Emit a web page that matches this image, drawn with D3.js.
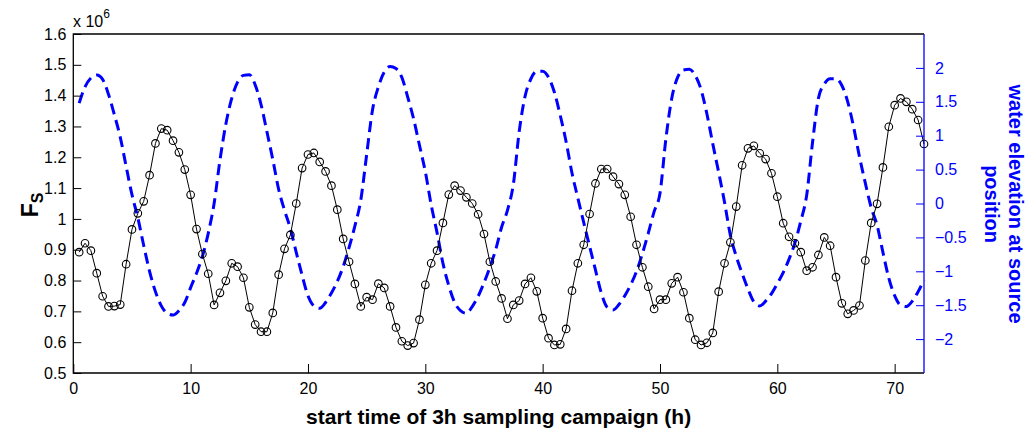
<!DOCTYPE html>
<html>
<head>
<meta charset="utf-8">
<script src="https://cdn.jsdelivr.net/npm/d3@7"></script>
<style>
  body { margin: 0; background: #fff; }
  svg { display: block; font-family: Arial, "Liberation Sans", sans-serif; }
</style>
</head>
<body>
<svg id="chart" width="1029" height="431"></svg>
<script>
// sampling start times, every half hour from 0.5 h to 72.5 h
const hours = d3.range(1, 146).map(i => i * 0.5);

// F_S (x 10^6), black line with circles
const fs = [
  0.892, 0.921, 0.897, 0.824, 0.749, 0.716, 0.717, 0.722, 0.853, 0.966,
  1.018, 1.057, 1.142, 1.245, 1.293, 1.288, 1.254, 1.216, 1.160, 1.078,
  0.967, 0.886, 0.822, 0.721, 0.760, 0.799, 0.856, 0.845, 0.809, 0.713,
  0.657, 0.634, 0.634, 0.695, 0.819, 0.903, 0.948, 1.050, 1.165, 1.209,
  1.214, 1.185, 1.154, 1.108, 1.030, 0.935, 0.861, 0.789, 0.716, 0.746,
  0.738, 0.790, 0.776, 0.716, 0.648, 0.603, 0.589, 0.597, 0.673, 0.786,
  0.856, 0.897, 0.987, 1.079, 1.108, 1.092, 1.070, 1.050, 1.015, 0.951,
  0.861, 0.797, 0.742, 0.676, 0.721, 0.735, 0.789, 0.809, 0.765, 0.678,
  0.613, 0.591, 0.593, 0.643, 0.767, 0.856, 0.916, 1.016, 1.115, 1.162,
  1.162, 1.137, 1.113, 1.078, 1.007, 0.916, 0.843, 0.780, 0.708, 0.738,
  0.738, 0.791, 0.811, 0.762, 0.678, 0.608, 0.591, 0.598, 0.630, 0.764,
  0.856, 0.924, 1.040, 1.174, 1.229, 1.237, 1.213, 1.194, 1.148, 1.072,
  0.986, 0.942, 0.921, 0.892, 0.832, 0.843, 0.883, 0.940, 0.913, 0.811,
  0.726, 0.692, 0.703, 0.719, 0.865, 0.987, 1.049, 1.167, 1.299, 1.369,
  1.391, 1.380, 1.356, 1.321, 1.243
];

// water elevation at source position, blue dashed
const elevation = [
  1.48, 1.72, 1.85, 1.895, 1.83, 1.61, 1.31, 0.98, 0.55, 0.13,
  -0.21, -0.62, -1.00, -1.30, -1.51, -1.62, -1.645, -1.58, -1.46, -1.24,
  -1.03, -0.78, -0.44, 0.00, 0.64, 1.17, 1.55, 1.79, 1.89, 1.90,
  1.75, 1.46, 1.06, 0.65, 0.21, -0.10, -0.37, -0.72, -1.06, -1.36,
  -1.51, -1.545, -1.46, -1.32, -1.15, -0.93, -0.65, -0.33, 0.05, 0.72,
  1.38, 1.72, 1.94, 2.02, 1.99, 1.86, 1.57, 1.25, 0.86, 0.47,
  -0.02, -0.43, -0.88, -1.21, -1.46, -1.58, -1.62, -1.52, -1.37, -1.17,
  -0.94, -0.68, -0.35, -0.10, 0.28, 1.06, 1.58, 1.84, 1.95, 1.95,
  1.86, 1.64, 1.30, 0.91, 0.45, 0.08, -0.28, -0.63, -0.98, -1.32,
  -1.53, -1.57, -1.49, -1.36, -1.20, -1.00, -0.74, -0.44, -0.12, 0.15,
  0.95, 1.55, 1.86, 1.97, 1.98, 1.89, 1.68, 1.32, 0.88, 0.46,
  0.02, -0.47, -0.78, -1.03, -1.26, -1.45, -1.51, -1.44, -1.33, -1.18,
  -1.02, -0.82, -0.58, -0.26, 0.12, 0.90, 1.55, 1.76, 1.84, 1.84,
  1.74, 1.50, 1.13, 0.69, 0.30, -0.06, -0.32, -0.72, -1.10, -1.36,
  -1.50, -1.52, -1.44, -1.30, -1.13
];

const xTicks = [0, 10, 20, 30, 40, 50, 60, 70];
const leftTicks = [0.5, 0.6, 0.7, 0.8, 0.9, 1, 1.1, 1.2, 1.3, 1.4, 1.5, 1.6];
const leftTickLabels = ["0.5", "0.6", "0.7", "0.8", "0.9", "1", "1.1", "1.2", "1.3", "1.4", "1.5", "1.6"];
const rightTicks = [-2, -1.5, -1, -0.5, 0, 0.5, 1, 1.5, 2];
const rightTickLabels = ["\u22122", "\u22121.5", "\u22121", "\u22120.5", "0", "0.5", "1", "1.5", "2"];

const plotL = 73.3, plotR = 924, plotT = 34, plotB = 373;
const blue = "#0000ff";

const svg = d3.select("#chart");

const x = d3.scaleLinear().domain([0, 72.5]).range([plotL, plotR]);
const yL = d3.scaleLinear().domain([0.5, 1.6]).range([plotB, plotT]);
const yR = d3.scaleLinear().domain([-2.5, 2.5]).range([plotB, plotT]);

const fsData = hours.map((t, i) => ({ t, v: fs[i] }));
const wlData = hours.map((t, i) => ({ t, v: elevation[i] }));

// blue dashed tide curve
svg.append("path")
  .datum(wlData)
  .attr("fill", "none")
  .attr("stroke", blue)
  .attr("stroke-width", 3)
  .attr("stroke-dasharray", "11,6")
  .attr("d", d3.line().x(d => x(d.t)).y(d => yR(d.v)).curve(d3.curveMonotoneX));

// black line + circles
svg.append("path")
  .datum(fsData)
  .attr("fill", "none")
  .attr("stroke", "#000")
  .attr("stroke-width", 1)
  .attr("d", d3.line().x(d => x(d.t)).y(d => yL(d.v)));

svg.append("g")
  .selectAll("circle")
  .data(fsData)
  .join("circle")
  .attr("cx", d => x(d.t))
  .attr("cy", d => yL(d.v))
  .attr("r", 3.8)
  .attr("fill", "none")
  .attr("stroke", "#000")
  .attr("stroke-width", 1.1);

// axes
function styleAxis(g, color) {
  g.select(".domain").remove();
  g.selectAll(".tick line").attr("stroke", color).attr("stroke-width", 1);
  g.selectAll(".tick text").attr("fill", color).style("font-size", "16px");
}

svg.append("g")
  .attr("transform", `translate(0,${plotB})`)
  .call(d3.axisBottom(x).tickValues(xTicks).tickSize(-9).tickPadding(10))
  .call(g => styleAxis(g, "#000"));

svg.append("g")
  .attr("transform", `translate(${plotL},0)`)
  .call(d3.axisLeft(yL).tickValues(leftTicks).tickFormat((d, i) => leftTickLabels[i]).tickSize(-8).tickPadding(7))
  .call(g => styleAxis(g, "#000"));

svg.append("g")
  .attr("transform", `translate(${plotR},0)`)
  .call(d3.axisRight(yR).tickValues(rightTicks).tickFormat((d, i) => rightTickLabels[i]).tickSize(-8).tickPadding(11))
  .call(g => styleAxis(g, blue));

// frame: left, top, bottom black; right blue
svg.append("path")
  .attr("d", `M${plotR},${plotT}H${plotL}V${plotB}H${plotR}`)
  .attr("fill", "none").attr("stroke", "#000").attr("stroke-width", 1.3);
svg.append("line")
  .attr("x1", plotR).attr("x2", plotR).attr("y1", plotT).attr("y2", plotB)
  .attr("stroke", blue).attr("stroke-width", 1.3);

// exponent label
const ex = svg.append("text").attr("x", 73).attr("y", 27).style("font-size", "16px").attr("fill", "#000");
ex.append("tspan").text("x 10");
ex.append("tspan").attr("dy", -9).style("font-size", "12px").text("6");

// axis titles
svg.append("text")
  .attr("x", (plotL + plotR) / 2).attr("y", 424)
  .attr("text-anchor", "middle")
  .style("font-size", "21px").style("font-weight", "bold")
  .text("start time of 3h sampling campaign (h)");

const fl = svg.append("text")
  .attr("transform", "translate(38,205) rotate(-90)")
  .attr("text-anchor", "middle")
  .style("font-size", "23px").style("font-weight", "bold");
fl.append("tspan").text("F");
fl.append("tspan").attr("dy", 5).style("font-size", "16px").text("S");

const rl = svg.append("text")
  .attr("transform", "translate(1009,204) rotate(90)")
  .attr("text-anchor", "middle")
  .attr("fill", blue)
  .style("font-size", "20px").style("font-weight", "bold");
rl.append("tspan").attr("x", 0).attr("dy", 0).text("water elevation at source");
rl.append("tspan").attr("x", 0).attr("dy", 24).text("position");
</script>
</body>
</html>
